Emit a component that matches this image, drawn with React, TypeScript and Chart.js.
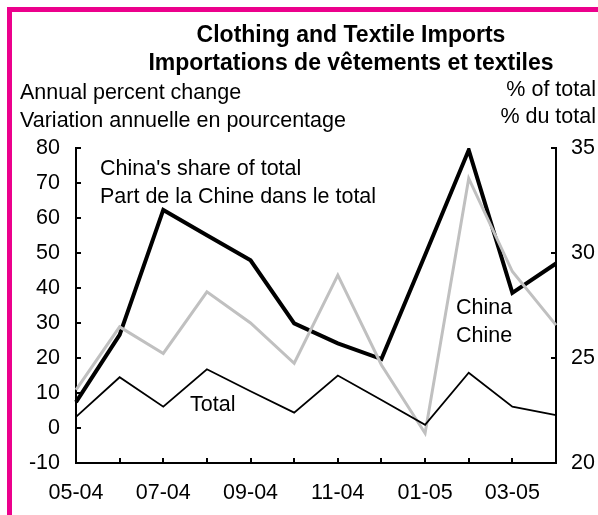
import React, { useEffect, useRef } from "react";
import { Chart, registerables } from "chart.js";

Chart.register(...registerables);

const months = ["05-04", "06-04", "07-04", "08-04", "09-04", "10-04", "11-04", "12-04", "01-05", "02-05", "03-05", "04-05"];
const totalChange = [3.2, 14.5, 6.1, 16.8, 10.5, 4.4, 15.0, 8.0, 0.9, 15.8, 6.1, 3.7];
const chinaChange = [10.9, 28.9, 21.3, 38.9, 30.0, 18.5, 43.7, 18.0, -1.5, 71.3, 44.7, 29.4];
const chinaShare = [22.9, 26.1, 32.05, 30.85, 29.65, 26.65, 25.7, 24.95, 29.9, 34.9, 28.1, 29.5];

const titleLines = ["Clothing and Textile Imports", "Importations de vêtements et textiles"];
const leftTitleLines = ["Annual percent change", "Variation annuelle en pourcentage"];
const rightTitleLines = ["% of total", "% du total"];
const shareLabelLines = ["China's share of total", "Part de la Chine dans le total"];
const chinaLabelLines = ["China", "Chine"];
const totalLabelLines = ["Total"];

const FONT = "'Liberation Sans', Arial, sans-serif";
const FS = 21.5;

const textPlugin = {
  id: "texts",
  afterDraw(chart: any) {
    const ctx = chart.ctx;
    const { left, right, bottom } = chart.chartArea;
    ctx.save();
    ctx.fillStyle = "#000";
    ctx.textBaseline = "alphabetic";
    ctx.font = `bold 23px ${FONT}`;
    ctx.textAlign = "center";
    titleLines.forEach((t, i) => ctx.fillText(t, 351, 42 + i * 28));
    ctx.font = `${FS}px ${FONT}`;
    ctx.textAlign = "left";
    leftTitleLines.forEach((t, i) => ctx.fillText(t, 20, 99 + i * 28));
    ctx.textAlign = "right";
    rightTitleLines.forEach((t, i) => ctx.fillText(t, 596, 96 + i * 27));
    ctx.textAlign = "left";
    shareLabelLines.forEach((t, i) => ctx.fillText(t, 100, 175 + i * 28));
    chinaLabelLines.forEach((t, i) => ctx.fillText(t, 456, 314 + i * 28));
    totalLabelLines.forEach((t, i) => ctx.fillText(t, 190, 411 + i * 28));

    ctx.strokeStyle = "#000";
    ctx.lineWidth = 2;
    const yl = chart.scales.y;
    const yr = chart.scales.y2;
    const xs = chart.scales.x;
    ctx.beginPath();
    yl.ticks.forEach((t: any) => {
      const y = Math.round(yl.getPixelForValue(t.value));
      ctx.moveTo(left, y);
      ctx.lineTo(left + 5, y);
    });
    yr.ticks.forEach((t: any) => {
      const y = Math.round(yr.getPixelForValue(t.value));
      ctx.moveTo(right, y);
      ctx.lineTo(right - 5, y);
    });
    months.forEach((_, i) => {
      const x = Math.round(xs.getPixelForValue(i));
      ctx.moveTo(x, bottom);
      ctx.lineTo(x, bottom - 5);
    });
    ctx.stroke();
    ctx.restore();
  },
};

export default function App() {
  const ref = useRef<HTMLCanvasElement>(null);
  useEffect(() => {
    if (!ref.current) return;
    const chart = new Chart(ref.current, {
      type: "line",
      data: {
        labels: months,
        datasets: [
          {
            label: "Total",
            data: totalChange,
            borderColor: "#000",
            borderWidth: 1.8,
            pointRadius: 0,
            yAxisID: "y",
            tension: 0,
          },
          {
            label: "China",
            data: chinaChange,
            borderColor: "#c0c0c0",
            borderWidth: 3,
            pointRadius: 0,
            yAxisID: "y",
            tension: 0,
          },
          {
            label: "China's share of total",
            data: chinaShare,
            borderColor: "#000",
            borderWidth: 4,
            pointRadius: 0,
            yAxisID: "y2",
            tension: 0,
          },
        ],
      },
      options: {
        responsive: false,
        animation: false,
        layout: { padding: { left: 0, right: 0, top: 148, bottom: 0 } },
        plugins: { legend: { display: false }, title: { display: false }, tooltip: { enabled: false } },
        scales: {
          x: {
            type: "category",
            offset: false,
            grid: { display: false },
            border: { display: true, color: "#000", width: 2 },
            ticks: {
              autoSkip: false,
              maxRotation: 0,
              color: "#000",
              padding: 9,
              font: { family: FONT, size: FS },
              callback: (v: any, i: number) => (i % 2 === 0 ? months[i] : ""),
            },
            afterFit: (s: any) => {
              s.height = 52;
            },
          },
          y: {
            position: "left",
            min: -10,
            max: 80,
            grid: { display: false },
            border: { display: true, color: "#000", width: 2 },
            ticks: { stepSize: 10, color: "#000", padding: 8, font: { family: FONT, size: FS } },
            afterFit: (s: any) => {
              s.width = 76;
            },
          },
          y2: {
            position: "right",
            min: 20,
            max: 35,
            grid: { display: false },
            border: { display: true, color: "#000", width: 2 },
            ticks: { stepSize: 5, color: "#000", padding: 7, font: { family: FONT, size: FS } },
            afterFit: (s: any) => {
              s.width = 42;
            },
          },
        },
      },
      plugins: [textPlugin],
    });
    return () => chart.destroy();
  }, []);

  return (
    <div style={{ position: "fixed", left: 0, top: 0, width: 598, height: 515, overflow: "hidden", background: "#fff" }}>
      <div
        style={{
          position: "absolute",
          left: 7,
          top: 7,
          width: 640,
          height: 504,
          borderTop: "5px solid #ec008c",
          borderLeft: "5px solid #ec008c",
          borderBottom: "2px solid #ffb3de",
        }}
      />
      <canvas ref={ref} width={598} height={515} style={{ position: "absolute", left: 0, top: 0, width: 598, height: 515 }} />
    </div>
  );
}
